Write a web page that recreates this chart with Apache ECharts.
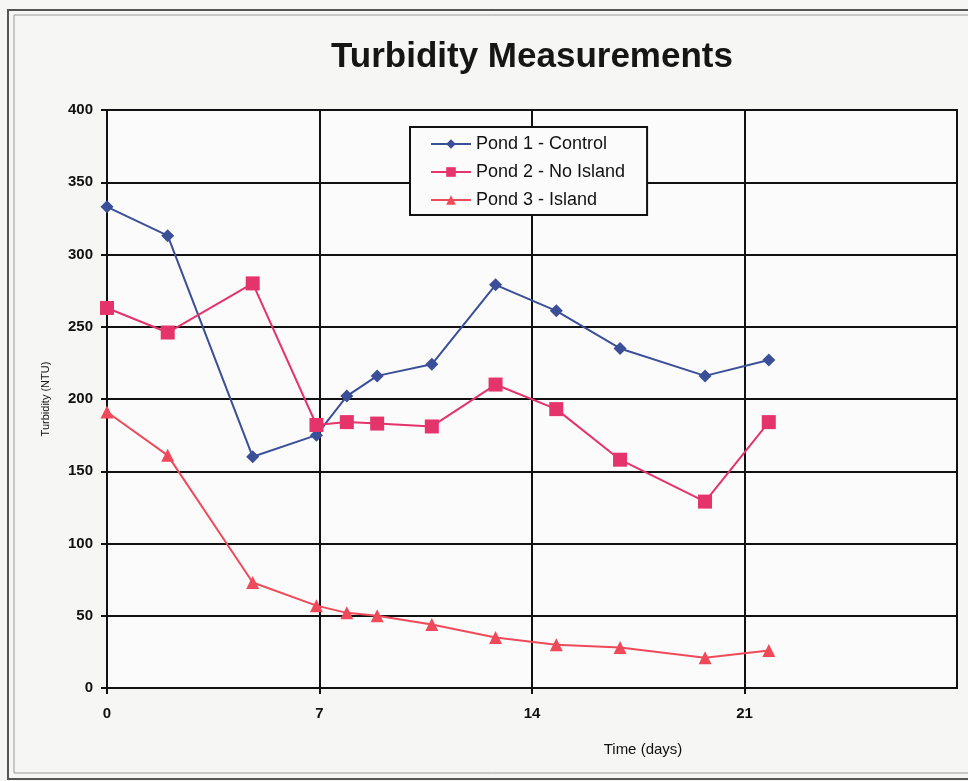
<!DOCTYPE html>
<html>
<head>
<meta charset="utf-8">
<script src="https://cdn.jsdelivr.net/npm/echarts@6/dist/echarts.min.js"></script>
<style>
  html, body { margin: 0; padding: 0; background: #f6f6f4; }
  #chart { width: 968px; height: 781px; }
</style>
</head>
<body>
<div id="chart"></div>
<script>
// sampling days and turbidity in NTU
var days = [0, 2, 4.8, 6.9, 7.9, 8.9, 10.7, 12.8, 14.8, 16.9, 19.7, 21.8];
var pond1 = [333, 313, 160, 175, 202, 216, 224, 279, 261, 235, 216, 227];
var pond2 = [263, 246, 280, 182, 184, 183, 181, 210, 193, 158, 129, 184];
var pond3 = [191, 161, 73, 57, 52, 50, 44, 35, 30, 28, 21, 26];
var seriesNames = ['Pond 1 - Control', 'Pond 2 - No Island', 'Pond 3 - Island'];
var xTicks = [0, 7, 14, 21];

function pairs(vals) {
    return days.map(function (d, i) { return [d, vals[i]]; });
}

var chart = echarts.init(document.getElementById('chart'));

var option = {
    backgroundColor: '#f6f6f4',
    animation: false,
    title: {
        text: 'Turbidity Measurements',
        left: 326,
        top: 35,
        textStyle: {
            fontFamily: 'Liberation Sans',
            fontWeight: 'bold',
            fontSize: 35,
            color: '#161616'
        }
    },
    graphic: [
        { type: 'rect', shape: { x: 8, y: 10, width: 980, height: 769 },
          style: { fill: 'none', stroke: '#555', lineWidth: 2 }, z: -1 },
        { type: 'rect', shape: { x: 14, y: 15, width: 980, height: 758 },
          style: { fill: 'none', stroke: '#999', lineWidth: 1 }, z: -1 }
    ],
    legend: {
        orient: 'vertical',
        left: 410,
        top: 127,
        itemWidth: 40,
        itemHeight: 12,
        itemGap: 10,
        padding: [8, 22, 6, 20],
        backgroundColor: '#fbfbfb',
        borderColor: '#111',
        borderWidth: 2,
        borderRadius: 0,
        textStyle: {
            fontFamily: 'Liberation Sans',
            fontSize: 18,
            color: '#111'
        },
        data: seriesNames
    },
    grid: {
        left: 107,
        right: 11,
        top: 110,
        bottom: 93,
        show: true,
        backgroundColor: '#fbfbfb',
        borderColor: '#111',
        borderWidth: 2
    },
    xAxis: {
        type: 'value',
        min: 0,
        max: 28,
        interval: 7,
        name: 'Time (days)',
        nameLocation: 'middle',
        nameGap: 54,
        nameTextStyle: {
            fontFamily: 'Liberation Sans',
            fontSize: 15,
            color: '#111',
            padding: [0, 0, 0, 222]
        },
        axisLine: { lineStyle: { color: '#111', width: 2 } },
        axisTick: { show: true, length: 6, lineStyle: { color: '#111', width: 2 } },
        axisLabel: {
            margin: 18,
            fontFamily: 'Liberation Sans',
            fontWeight: 'bold',
            fontSize: 15,
            color: '#111',
            showMaxLabel: false,
            formatter: function (v) { return xTicks.indexOf(v) >= 0 ? String(v) : ''; }
        },
        splitLine: { show: true, lineStyle: { color: '#111', width: 2 } }
    },
    yAxis: {
        type: 'value',
        min: 0,
        max: 400,
        interval: 50,
        name: 'Turbidity (NTU)',
        nameLocation: 'middle',
        nameGap: 56,
        nameTextStyle: {
            fontFamily: 'Liberation Sans',
            fontSize: 11,
            color: '#111'
        },
        axisLine: { show: true, lineStyle: { color: '#111', width: 2 } },
        axisTick: { show: true, length: 6, lineStyle: { color: '#111', width: 2 } },
        axisLabel: {
            margin: 14,
            fontFamily: 'Liberation Sans',
            fontWeight: 'bold',
            fontSize: 15,
            color: '#111'
        },
        splitLine: { show: true, lineStyle: { color: '#111', width: 2 } }
    },
    series: [
        {
            name: seriesNames[0],
            type: 'line',
            data: pairs(pond1),
            symbol: 'diamond',
            symbolSize: 13,
            color: '#3b4f98',
            lineStyle: { width: 2 }
        },
        {
            name: seriesNames[1],
            type: 'line',
            data: pairs(pond2),
            symbol: 'rect',
            symbolSize: 14,
            color: '#e5336c',
            lineStyle: { width: 2 }
        },
        {
            name: seriesNames[2],
            type: 'line',
            data: pairs(pond3),
            symbol: 'triangle',
            symbolSize: 13,
            color: '#ef4a5a',
            lineStyle: { width: 2 }
        }
    ]
};

chart.setOption(option);
</script>
</body>
</html>
